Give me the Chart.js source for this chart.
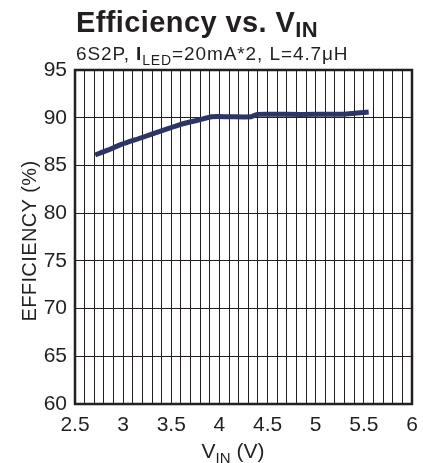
<!DOCTYPE html>
<html>
<head>
<meta charset="utf-8">
<script src="https://cdn.jsdelivr.net/npm/chart.js@4/dist/chart.umd.min.js"></script>
<style>
  html, body { margin: 0; padding: 0; background: #fff; }
  #wrap { width: 423px; height: 463px; }
</style>
</head>
<body>
<div id="wrap"><canvas id="effChart"></canvas></div>
<script>
// values
const vin = [2.71, 2.84, 2.98, 3.19, 3.45, 3.6, 3.8, 3.92, 4.1, 4.33, 4.39, 4.7, 5.0, 5.32, 5.55];
const efficiency = [86.1, 86.6, 87.2, 87.9, 88.8, 89.3, 89.8, 90.1, 90.1, 90.1, 90.35, 90.35, 90.35, 90.4, 90.6];
const xTickLabels = [2.5, 3, 3.5, 4, 4.5, 5, 5.5, 6];
const yTickLabels = [60, 65, 70, 75, 80, 85, 90, 95];

const ink = '#231f20';
const fontFamily = '"Liberation Sans", Arial, Helvetica, sans-serif';

// draws text pieces in a row, some of them as subscripts
function drawRich(ctx, parts, x, y, align, spacing) {
  ctx.letterSpacing = (spacing || 0) + 'px';
  let total = 0;
  parts.forEach(p => { ctx.font = p.font; total += ctx.measureText(p.text).width; });
  let cx = align === 'center' ? x - total / 2 : x;
  parts.forEach(p => {
    ctx.font = p.font;
    ctx.fillText(p.text, cx, y + (p.dy || 0));
    cx += ctx.measureText(p.text).width;
  });
  ctx.letterSpacing = '0px';
}

const textPlugin = {
  id: 'textPlugin',
  beforeDatasetsDraw(chart) {
    // heavier frame round the plot
    const {ctx, chartArea: a} = chart;
    ctx.save();
    ctx.strokeStyle = ink;
    ctx.lineWidth = 2.5;
    ctx.strokeRect(a.left, a.top, a.right - a.left, a.bottom - a.top);
    ctx.restore();
  },
  afterDraw(chart) {
    const {ctx, chartArea: a} = chart;
    ctx.save();
    ctx.fillStyle = ink;
    ctx.textBaseline = 'alphabetic';
    ctx.textAlign = 'left';

    drawRich(ctx, [
      {text: 'Efficiency vs. V', font: 'bold 29px ' + fontFamily},
      {text: 'IN', font: 'bold 22px ' + fontFamily, dy: 5}
    ], 76, 32, 'left', 0.4);

    drawRich(ctx, [
      {text: '6S2P, ', font: '19px ' + fontFamily},
      {text: 'I', font: 'bold 19px ' + fontFamily},
      {text: 'LED', font: '14px ' + fontFamily, dy: 5},
      {text: '=20mA*2, L=4.7\u03bcH', font: '19px ' + fontFamily}
    ], 76, 60, 'left', 0.9);

    drawRich(ctx, [
      {text: 'V', font: '21px ' + fontFamily},
      {text: 'IN', font: '15px ' + fontFamily, dy: 5},
      {text: ' (V)', font: '21px ' + fontFamily}
    ], 233, 458, 'center');

    ctx.translate(36, (a.top + a.bottom) / 2 + 4);
    ctx.rotate(-Math.PI / 2);
    ctx.textAlign = 'center';
    ctx.font = '20px ' + fontFamily;
    ctx.letterSpacing = '0.4px';
    ctx.fillText('EFFICIENCY (%)', 0, 0);
    ctx.restore();
  }
};

new Chart(document.getElementById('effChart'), {
  type: 'line',
  data: {
    datasets: [{
      label: 'Efficiency',
      data: vin.map((v, i) => ({x: v, y: efficiency[i]})),
      borderColor: '#2c3566',
      borderWidth: 5,
      pointRadius: 0,
      tension: 0.2,
      fill: false
    }]
  },
  options: {
    responsive: true,
    maintainAspectRatio: false,
    animation: false,
    layout: { padding: { top: 70, right: 11, left: 0, bottom: 0 } },
    plugins: { legend: { display: false }, tooltip: { enabled: false }, title: { display: false } },
    scales: {
      x: {
        type: 'linear',
        min: 2.5,
        max: 6,
        afterFit: s => { s.height = 59; s.paddingLeft = 0; s.paddingRight = 0; },
        afterBuildTicks: s => {
          const t = [];
          for (let i = 25; i <= 60; i++) t.push({value: i / 10});
          s.ticks = t;
        },
        ticks: {
          autoSkip: false,
          maxRotation: 0,
          padding: 9,
          color: ink,
          font: { family: fontFamily, size: 21 },
          callback: v => {
            const n = Math.round(v * 10) / 10;
            return xTickLabels.includes(n) ? String(n) : '';
          }
        },
        grid: { color: ink, lineWidth: 1, drawTicks: false },
        border: { display: false }
      },
      y: {
        min: 60,
        max: 95,
        afterFit: s => { s.width = 75; s.paddingTop = 0; s.paddingBottom = 0; },
        afterBuildTicks: s => { s.ticks = yTickLabels.map(v => ({value: v})); },
        ticks: {
          padding: 8,
          color: ink,
          font: { family: fontFamily, size: 21 }
        },
        grid: { color: ink, lineWidth: 1, drawTicks: false },
        border: { display: false }
      }
    }
  },
  plugins: [textPlugin]
});
</script>
</body>
</html>
